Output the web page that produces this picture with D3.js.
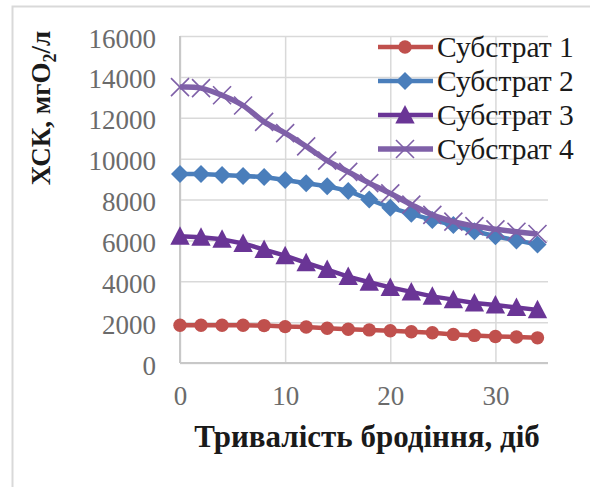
<!DOCTYPE html>
<html><head><meta charset="utf-8">
<script src="https://cdn.jsdelivr.net/npm/d3@7"></script>
<style>body{margin:0;background:#fff}svg{display:block}
svg text{font-family:"Liberation Serif","Times New Roman","DejaVu Serif",serif !important}</style>
</head><body><svg id="c" width="590" height="487"></svg>
<script>
const days = [0,2,4,6,8,10,12,14,16,18,20,22,24,26,28,30,32,34];
const substrate1 = [1850,1850,1850,1850,1830,1780,1760,1700,1650,1620,1580,1530,1480,1400,1350,1300,1270,1230];
const substrate2 = [9250,9250,9200,9150,9100,8950,8800,8650,8420,8000,7600,7300,7000,6750,6450,6200,6000,5800];
const substrate3 = [6200,6150,6050,5850,5550,5250,4900,4570,4230,3950,3700,3480,3260,3100,2940,2840,2720,2600];
const substrate4 = [13500,13450,13100,12600,11800,11250,10600,9900,9350,8800,8300,7750,7250,6920,6700,6540,6420,6310];
const seriesNames = ["Субстрат 1","Субстрат 2","Субстрат 3","Субстрат 4"];
const yTicks = [0,2000,4000,6000,8000,10000,12000,14000,16000];
const xTicks = [0,10,20,30];
const yTitle = "ХСК, мгО";
const yTitleSub = "2";
const yTitleEnd = "/л";
const xTitle = "Тривалість бродіння, діб";

const svg = d3.select('#c');
const x = d3.scaleLinear().domain([0,35]).range([180,548]);
const y = d3.scaleLinear().domain([0,16000]).range([363,36]);

// outer frame
svg.append('rect').attr('x',12.5).attr('y',6.5).attr('width',620).attr('height',620)
  .attr('fill','none').attr('stroke','#d9d9d9').attr('stroke-width',2);

// y axis with gridlines
const gy = svg.append('g').attr('transform','translate(180,0)')
  .call(d3.axisLeft(y).tickValues(yTicks).tickSize(-(548-180)).tickPadding(24).tickFormat(d3.format('d')));
gy.select('.domain').remove();
gy.selectAll('line').attr('stroke','#d9d9d9').attr('stroke-width',1.5);
gy.selectAll('text').attr('font-size',27).attr('fill','#6b6b6b').attr('dy','0.41em');

// x axis with gridlines
const gx = svg.append('g').attr('transform','translate(0,363)')
  .call(d3.axisBottom(x).tickValues(xTicks).tickSize(-(363-36)).tickPadding(23));
gx.select('.domain').remove();
gx.selectAll('line').attr('stroke','#d9d9d9').attr('stroke-width',1.5);
gx.selectAll('text').attr('font-size',27).attr('fill','#6b6b6b');

// axis lines
svg.append('line').attr('x1',180).attr('x2',548).attr('y1',363).attr('y2',363).attr('stroke','#c8c8c8').attr('stroke-width',2);
svg.append('line').attr('x1',180).attr('x2',180).attr('y1',36).attr('y2',363).attr('stroke','#c8c8c8').attr('stroke-width',2);

const series = [
  {name:seriesNames[0], vals:substrate1, color:'#C0504D', marker:'circle', curve:d3.curveLinear},
  {name:seriesNames[1], vals:substrate2, color:'#4A7EBB', marker:'diamond', curve:d3.curveLinear},
  {name:seriesNames[2], vals:substrate3, color:'#6A3596', marker:'triangle', curve:d3.curveLinear},
  {name:seriesNames[3], vals:substrate4, color:'#7F60A8', marker:'cross', curve:d3.curveCatmullRom.alpha(0.5)}
];

function drawMarker(g, type, color){
  if(type==='circle') g.append('circle').attr('r',6.7).attr('fill',color);
  else if(type==='diamond') g.append('path').attr('d','M0,-9L9,0L0,9L-9,0Z').attr('fill',color);
  else if(type==='triangle') g.append('path').attr('d','M0,-10L9.7,8.5L-9.7,8.5Z').attr('fill',color);
  else g.append('path').attr('d','M-9,-9L9,9M-9,9L9,-9').attr('stroke',color).attr('stroke-width',1.6).attr('fill','none');
}

series.forEach(s=>{
  const line = d3.line().x((d,i)=>x(days[i])).y(d=>y(d)).curve(s.curve);
  svg.append('path').datum(s.vals).attr('d',line).attr('fill','none')
    .attr('stroke',s.color).attr('stroke-width',s.marker==='cross'?5.5:4.5).attr('stroke-linejoin','round');
  s.vals.forEach((v,i)=>{
    const g = svg.append('g').attr('transform',`translate(${x(days[i])},${y(v)})`);
    drawMarker(g, s.marker, s.color);
  });
});

// legend
const legY = [47,81,115,149];
series.forEach((s,i)=>{
  const g = svg.append('g').attr('transform',`translate(0,${legY[i]})`);
  g.append('line').attr('x1',378).attr('x2',433).attr('y1',0).attr('y2',0)
    .attr('stroke',s.color).attr('stroke-width',s.marker==='cross'?5.5:4.5);
  const m = g.append('g').attr('transform','translate(405,0)');
  drawMarker(m, s.marker, s.color);
  g.append('text').attr('x',437).attr('y',0).attr('dy','0.33em')
    .attr('font-size',29.5).attr('fill','#1a1a1a').text(s.name);
});

// y title
const yt = svg.append('text').attr('transform','translate(50,108) rotate(-90)')
  .attr('text-anchor','middle').attr('font-size',27)
  .attr('font-weight','bold').attr('fill','#1a1a1a');
yt.append('tspan').text(yTitle);
yt.append('tspan').attr('font-size',18).attr('dy',6).text(yTitleSub);
yt.append('tspan').attr('dy',-6).text(yTitleEnd);

// x title
svg.append('text').attr('x',367).attr('y',447).attr('text-anchor','middle')
  .attr('font-size',31).attr('font-weight','bold')
  .attr('fill','#1a1a1a').text(xTitle);
</script></body></html>
